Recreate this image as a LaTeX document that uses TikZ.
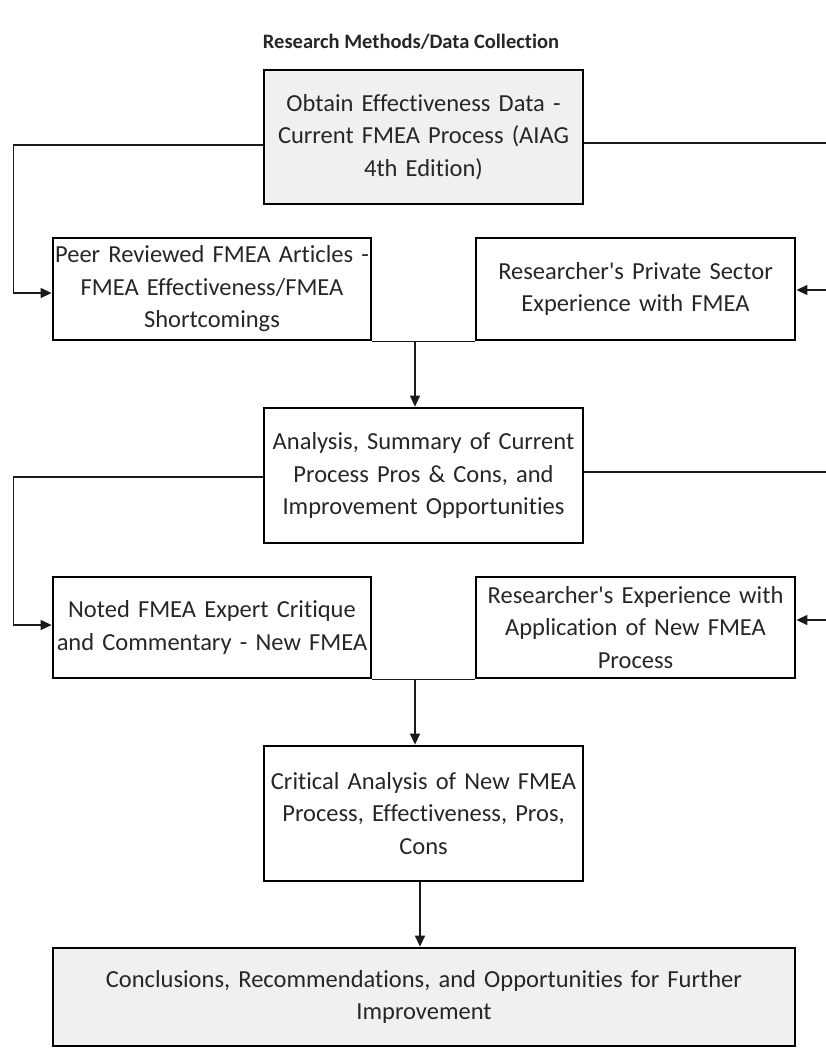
\documentclass[tikz,border=0pt]{standalone}
\usepackage{fontspec}
\setmainfont{Carlito}[Ligatures={NoCommon}]
\usetikzlibrary{arrows.meta}
\definecolor{boxgray}{HTML}{F0F0F0}
\definecolor{txt}{HTML}{262626}
\definecolor{wire}{HTML}{1A1A1A}
\newcommand{\apos}{\textquotesingle}
\begin{document}
\begin{tikzpicture}[x=1pt,y=-1pt,
  stepbox/.style={draw=black, line width=2.8pt, inner sep=0pt, align=center,
    text=txt, font=\fontsize{24.5}{32.5}\selectfont},
  keybox/.style={stepbox, fill=boxgray},
  link/.style={line width=1.3pt, draw=wire},
  arr/.style={link, -{Triangle[length=11pt,width=10pt]}}]
\useasboundingbox (0,0) rectangle (825,1049);

% heading
\node[font=\bfseries\fontsize{20.5}{24}\selectfont, text=txt] (title) at (411,42)
  {Research Methods/Data Collection};

% first stage
\node[keybox, text width=319pt, minimum height=134pt] (obtain) at (423.5,137)
  {Obtain Effectiveness Data -\\Current FMEA Process (AIAG\\4th Edition)};
\node[stepbox, text width=318pt, minimum height=102pt] (peer) at (212,289)
  {Peer Reviewed FMEA Articles -\\FMEA Effectiveness/FMEA\\Shortcomings};
\node[stepbox, text width=319pt, minimum height=102pt] (priv) at (635.5,289)
  {Researcher\apos s Private Sector\\Experience with FMEA};

% second stage
\node[stepbox, text width=319pt, minimum height=135pt] (analysis) at (423.5,475.5)
  {Analysis, Summary of Current\\Process Pros \& Cons, and\\Improvement Opportunities};
\node[stepbox, text width=318pt, minimum height=101pt] (expert) at (212,627.5)
  {Noted FMEA Expert Critique\\and Commentary - New FMEA};
\node[stepbox, text width=319pt, minimum height=101pt] (applied) at (635.5,627.5)
  {Researcher\apos s Experience with\\Application of New FMEA\\Process};

% final stage
\node[stepbox, text width=319pt, minimum height=135pt] (critical) at (423.5,813.5)
  {Critical Analysis of New FMEA\\Process, Effectiveness, Pros,\\Cons};
\node[keybox, text width=742pt, minimum height=98pt] (concl) at (424,997)
  {Conclusions, Recommendations, and Opportunities for Further\\Improvement};

% feeds from the first box
\draw[arr] ([yshift=-8pt]obtain.west) -| ([xshift=-38pt,yshift=-4pt]peer.west)
  -- ([yshift=-4pt]peer.west);
\draw[arr] ([yshift=-6pt]obtain.east) -| ([xshift=40pt,yshift=-1pt]priv.east)
  -- ([yshift=-1pt]priv.east);
\draw[link] (peer.south east) -- (priv.south west);
\draw[arr] ([xshift=-8.5pt]analysis.north |- peer.south) -- ([xshift=-8.5pt]analysis.north);

% feeds from the analysis box
\draw[arr] ([yshift=-1.5pt]analysis.west) -| ([xshift=-38pt,yshift=2.5pt]expert.west)
  -- ([yshift=2.5pt]expert.west);
\draw[arr] ([yshift=3.5pt]analysis.east) -| ([xshift=40pt,yshift=7.5pt]applied.east)
  -- ([yshift=7.5pt]applied.east);
\draw[link] (expert.south east) -- (applied.south west);
\draw[arr] ([xshift=-8.5pt]critical.north |- expert.south) -- ([xshift=-8.5pt]critical.north);

% to the conclusions
\draw[arr] ([xshift=-3.5pt]critical.south) -- ([xshift=-3.5pt]critical.south |- concl.north);
\end{tikzpicture}
\end{document}
